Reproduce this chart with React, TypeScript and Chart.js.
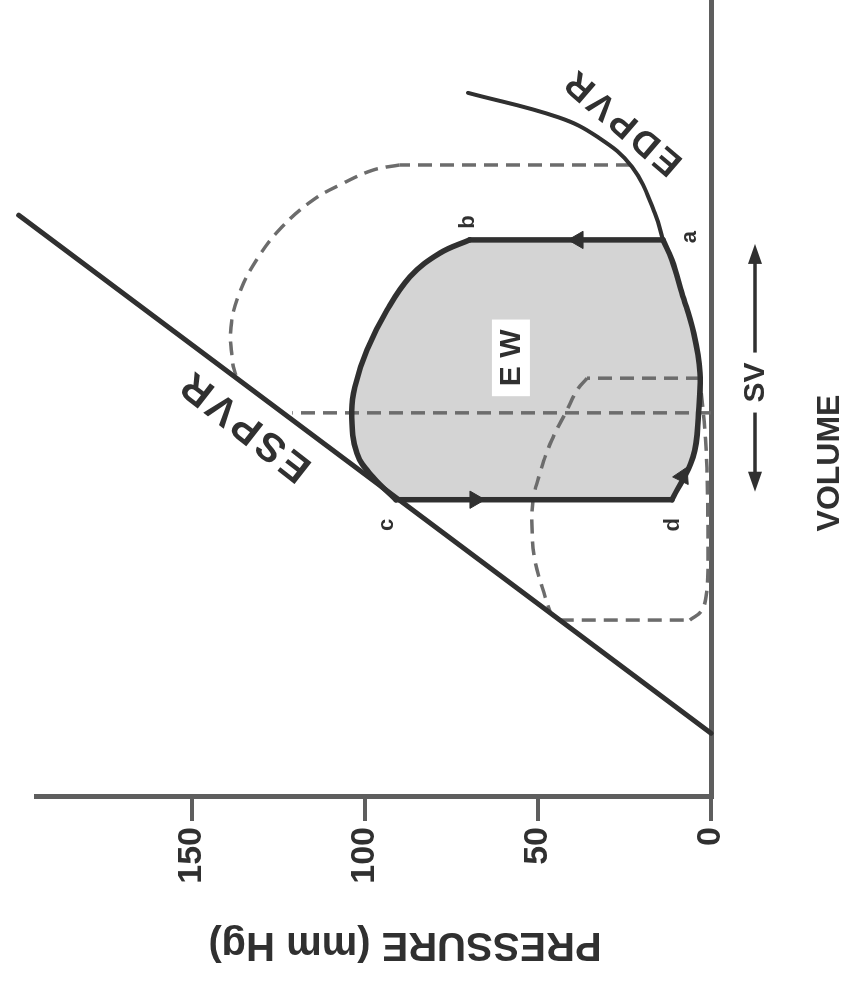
import React, { useEffect, useRef } from 'react';
import { Chart, registerables } from 'chart.js';

Chart.register(...registerables);

// ---------- axes ----------
const pressureTicks = [0, 50, 100, 150];
const pressureMax = 195;
const volumeMax = 200;

// ---------- ESPVR (straight line) ----------
const espvrVolume = [16, 146];
const espvrPressure = [0, 200];

// ---------- EDPVR beyond end-diastole (a) ----------
const edpvrVolume = [139.8, 146.5, 158.1, 165.6, 170.6, 176.7];
const edpvrPressure = [13.9, 16.2, 22.8, 32.7, 44.2, 70.2];

// ---------- control PV loop a-b-c-d ----------
const contractionVolume = [139.8, 139.8];
const contractionPressure = [13.9, 69.7];
const ejectionVolume = [139.8, 136.5, 130.5, 122.2, 112.2, 102.9, 96.4, 86.3, 80.3, 74.6];
const ejectionPressure = [69.7, 78.3, 87.0, 93.6, 99.4, 102.9, 103.8, 102.3, 97.7, 91.0];
const relaxationVolume = [74.6, 74.6];
const relaxationPressure = [91.0, 11.3];
const fillingVolume = [74.6, 85.3, 96.4, 106.4, 116.4, 126.5, 134.8, 139.8];
const fillingPressure = [11.3, 5.2, 3.6, 3.2, 5.0, 8.4, 11.3, 13.9];

// ---------- dashed: larger loop ----------
const bigContractionVolume = [158.6, 158.6];
const bigContractionPressure = [23.4, 90.0];
const bigEjectionVolume = [158.6, 157.3, 153.6, 149.8, 143.0, 135.3, 126.7, 117.9, 109.2, 105.9];
const bigEjectionPressure = [90.0, 97.7, 107.2, 115.0, 124.0, 130.9, 136.1, 138.7, 138.2, 137.3];

// ---------- dashed: smaller loop ----------
const smallContractionVolume = [105.1, 105.1];
const smallContractionPressure = [3.2, 35.8];
const smallEjectionVolume = [105.1, 102.1, 97.1, 89.6, 81.3, 74.5, 67.8, 59.5, 52.7, 46.5];
const smallEjectionPressure = [35.8, 38.7, 41.6, 46.0, 49.4, 51.4, 51.7, 50.9, 48.8, 46.5];
const smallRelaxationVolume = [44.4, 44.4];
const smallRelaxationPressure = [43.7, 6.1];
const smallFillingVolume = [44.4, 46.9, 51.9, 59.5, 75.0, 90.0, 105.1];
const smallFillingPressure = [6.1, 2.6, 1.2, 0.9, 1.0, 1.6, 3.2];

// ---------- dashed: vertical line ----------
const midLineVolume = [96.4, 96.4];
const midLinePressure = [0, 121];

// ---------- flow arrows on loop ----------
const arrowVolume = [139.8, 74.6, 80.5];
const arrowPressure = [38.4, 68.2, 8.2];
const arrowRotation = [0, 180, 116];

// ---------- labels (text, volume, pressure) ----------
const pointLabels = ['a', 'b', 'c', 'd'];
const pointLabelVolume = [140.5, 144.3, 68.3, 68.3];
const pointLabelPressure = [6.0, 70.2, 93.6, 11.0];
const strokeVolumeText = 'SV';
const workText = 'E W';
const workVolume = 110.2;
const workPressure = 57.8;
const espvrText = 'ESPVR';
const espvrLabelVolume = 93.4;
const espvrLabelPressure = 134.5;
const edpvrText = 'EDPVR';
const edpvrLabelVolume = 169.6;
const edpvrLabelPressure = 25.4;
const volumeTitle = 'VOLUME';
const pressureTitle = 'PRESSURE (mm Hg)';

const FONT = "'Liberation Sans', Arial, sans-serif";
const INK = '#303030';
const AXIS = '#5e5e5e';
const DASH = '#6c6c6c';
const FILL = '#d4d4d4';

const pts = (vs: number[], ps: number[]) => vs.map((v, i) => ({ x: v, y: ps[i] }));

function solidSet(data: any[], width: number, tension: number, color = INK) {
  return {
    data,
    showLine: true,
    borderColor: color,
    borderWidth: width,
    pointRadius: 0,
    tension,
    fill: false,
    clip: false,
    borderCapStyle: 'round',
    borderJoinStyle: 'round',
  };
}

function dashedSet(data: any[], tension: number) {
  return {
    data,
    showLine: true,
    borderColor: DASH,
    borderWidth: 3.5,
    borderDash: [14, 8],
    pointRadius: 0,
    tension,
    fill: false,
    clip: false,
  };
}

const annotations = {
  id: 'pvAnnotations',
  afterDatasetsDraw(chart: any) {
    const { ctx } = chart;
    const x = chart.scales.x;
    const y = chart.scales.y;
    ctx.save();
    ctx.fillStyle = INK;
    ctx.textAlign = 'center';
    ctx.textBaseline = 'middle';

    // point letters
    ctx.font = `bold 22px ${FONT}`;
    pointLabels.forEach((t, i) => {
      ctx.fillText(t, x.getPixelForValue(pointLabelVolume[i]), y.getPixelForValue(pointLabelPressure[i]));
    });

    // E W with white box
    const wx = x.getPixelForValue(workVolume);
    const wy = y.getPixelForValue(workPressure);
    ctx.font = `bold 30px ${FONT}`;
    const ww = ctx.measureText(workText).width + 20;
    ctx.fillStyle = '#ffffff';
    ctx.fillRect(wx - ww / 2, wy - 19, ww, 38);
    ctx.fillStyle = INK;
    ctx.fillText(workText, wx, wy + 1);

    // ESPVR label
    ctx.save();
    ctx.translate(x.getPixelForValue(espvrLabelVolume), y.getPixelForValue(espvrLabelPressure));
    ctx.rotate((-52 * Math.PI) / 180);
    ctx.font = `bold 40px ${FONT}`;
    (ctx as any).letterSpacing = '4px';
    ctx.fillText(espvrText, 0, 0);
    ctx.restore();

    // EDPVR label
    ctx.save();
    ctx.translate(x.getPixelForValue(edpvrLabelVolume), y.getPixelForValue(edpvrLabelPressure));
    ctx.rotate((-49.5 * Math.PI) / 180);
    ctx.font = `bold 36px ${FONT}`;
    (ctx as any).letterSpacing = '4px';
    ctx.fillText(edpvrText, 0, 0);
    ctx.restore();

    // SV double arrow
    const x0 = x.getPixelForValue(relaxationVolume[0]) + 8;
    const x1 = x.getPixelForValue(contractionVolume[0]) - 4;
    const sy = 755;
    const sc = x.getPixelForValue(104);
    ctx.strokeStyle = INK;
    ctx.lineWidth = 3.5;
    ctx.beginPath();
    ctx.moveTo(x0 + 10, sy);
    ctx.lineTo(sc - 30, sy);
    ctx.moveTo(sc + 30, sy);
    ctx.lineTo(x1 - 10, sy);
    ctx.stroke();
    ctx.beginPath();
    ctx.moveTo(x0, sy);
    ctx.lineTo(x0 + 20, sy - 7);
    ctx.lineTo(x0 + 20, sy + 7);
    ctx.closePath();
    ctx.moveTo(x1, sy);
    ctx.lineTo(x1 - 20, sy - 7);
    ctx.lineTo(x1 - 20, sy + 7);
    ctx.closePath();
    ctx.fill();
    ctx.font = `bold 30px ${FONT}`;
    ctx.fillText(strokeVolumeText, sc, sy + 1);

    // VOLUME title
    ctx.font = `bold 32px ${FONT}`;
    ctx.fillText(volumeTitle, 533, 830);

    // PRESSURE title (rotated)
    ctx.save();
    ctx.translate(52, 405);
    ctx.rotate(-Math.PI / 2);
    ctx.font = `bold 40px ${FONT}`;
    ctx.fillText(pressureTitle, 0, 0);
    ctx.restore();

    ctx.restore();
  },
};

export default function App() {
  const ref = useRef<HTMLCanvasElement>(null);

  useEffect(() => {
    const loopFill = [
      ...pts(contractionVolume, contractionPressure),
      ...pts(ejectionVolume, ejectionPressure).slice(1),
      ...pts(relaxationVolume, relaxationPressure).slice(1),
      ...pts(fillingVolume, fillingPressure).slice(1),
    ];

    const datasets: any[] = [
      {
        type: 'scatter',
        data: pts(arrowVolume, arrowPressure),
        pointStyle: 'triangle',
        pointRadius: 10,
        rotation: arrowRotation,
        backgroundColor: INK,
        borderColor: INK,
        borderWidth: 1,
        showLine: false,
        clip: false,
      },
      solidSet(pts(contractionVolume, contractionPressure), 5.5, 0),
      solidSet(pts(ejectionVolume, ejectionPressure), 5.5, 0.4),
      solidSet(pts(relaxationVolume, relaxationPressure), 5.5, 0),
      solidSet(pts(fillingVolume, fillingPressure), 5.5, 0.4),
      solidSet(pts(edpvrVolume, edpvrPressure), 4, 0.4),
      solidSet(pts(espvrVolume, espvrPressure), 5, 0),
      dashedSet(pts(bigContractionVolume, bigContractionPressure), 0),
      dashedSet(pts(bigEjectionVolume, bigEjectionPressure), 0.4),
      dashedSet(pts(smallContractionVolume, smallContractionPressure), 0),
      dashedSet(pts(smallEjectionVolume, smallEjectionPressure), 0.4),
      dashedSet(pts(smallRelaxationVolume, smallRelaxationPressure), 0),
      dashedSet(pts(smallFillingVolume, smallFillingPressure), 0.4),
      dashedSet(pts(midLineVolume, midLinePressure), 0),
      {
        data: loopFill,
        showLine: true,
        fill: 'shape',
        backgroundColor: FILL,
        borderWidth: 0,
        borderColor: 'rgba(0,0,0,0)',
        pointRadius: 0,
        tension: 0,
        clip: false,
      },
    ];

    const chart = new Chart(ref.current as HTMLCanvasElement, {
      type: 'scatter',
      data: { datasets },
      options: {
        animation: false,
        responsive: false,
        devicePixelRatio: 1,
        events: [],
        layout: { autoPadding: false, padding: { top: 36, right: 0, bottom: 0, left: 0 } },
        plugins: {
          legend: { display: false },
          tooltip: { enabled: false },
        },
        scales: {
          x: {
            type: 'linear',
            min: 0,
            max: volumeMax,
            ticks: { display: false },
            grid: { display: false, drawTicks: false },
            border: { display: true, color: AXIS, width: 5 },
            afterFit: (s: any) => {
              s.height = 139;
            },
          },
          y: {
            type: 'linear',
            min: 0,
            max: pressureMax,
            afterBuildTicks: (s: any) => {
              s.ticks = pressureTicks.map((v) => ({ value: v }));
            },
            ticks: {
              includeBounds: false,
              stepSize: 50,
              color: INK,
              padding: 6,
              maxRotation: 0,
              minRotation: 0,
              font: { family: FONT, size: 34, weight: 'bold' },
            },
            grid: {
              display: true,
              drawOnChartArea: false,
              drawTicks: true,
              tickLength: 24,
              lineWidth: 4,
              color: AXIS,
            },
            border: { display: true, color: AXIS, width: 5 },
            afterFit: (s: any) => {
              s.width = 199;
            },
          },
        },
      } as any,
      plugins: [annotations],
    });
    return () => chart.destroy();
  }, []);

  return (
    <div
      style={{
        position: 'fixed',
        left: 0,
        top: 0,
        width: 850,
        height: 996,
        overflow: 'hidden',
        background: '#ffffff',
      }}
    >
      <div
        style={{
          position: 'absolute',
          left: 0,
          top: 0,
          width: 996,
          height: 850,
          transformOrigin: '0 0',
          transform: 'translateY(996px) rotate(-90deg)',
        }}
      >
        <canvas ref={ref} width={996} height={850} style={{ display: 'block', width: 996, height: 850 }} />
      </div>
    </div>
  );
}
